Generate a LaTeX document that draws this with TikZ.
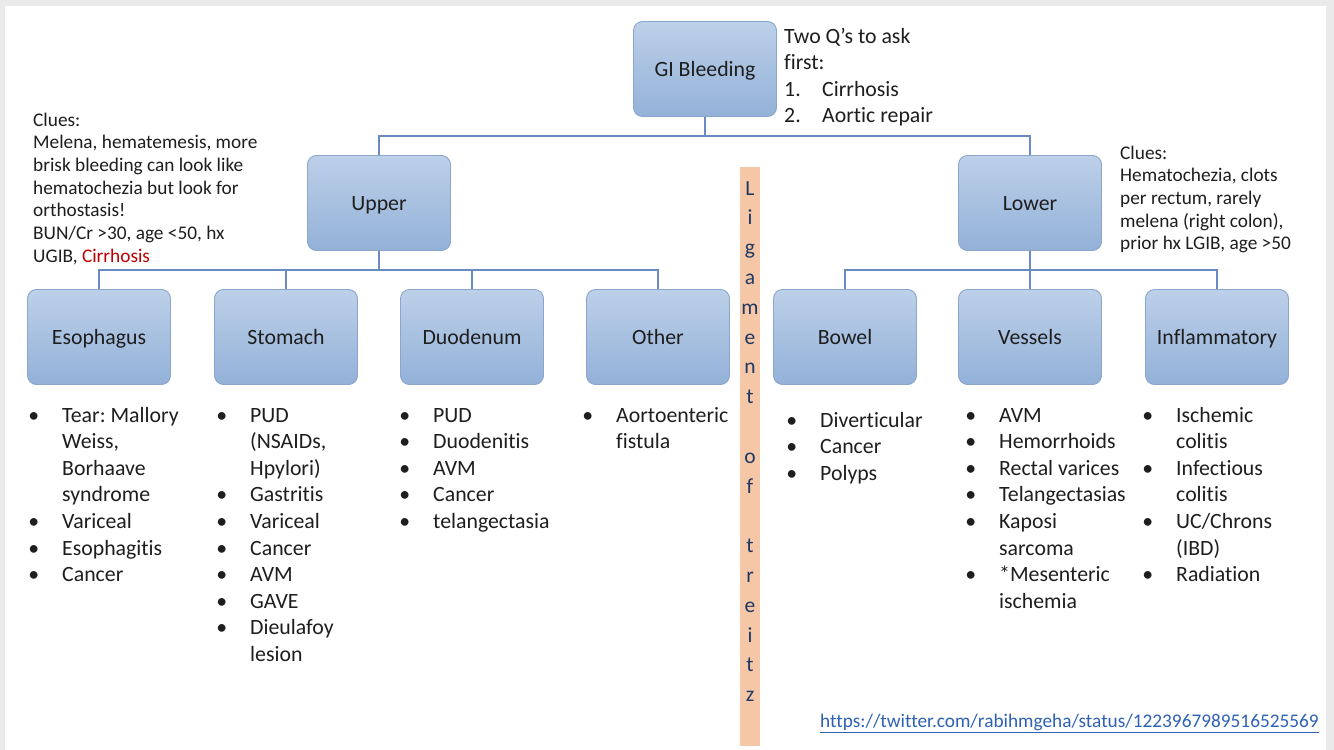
\documentclass[tikz,border=0pt]{standalone}
\usepackage{fontspec}
\setmainfont{Carlito}[Ligatures=NoCommon]
\frenchspacing
\definecolor{boxtop}{HTML}{BDD0E9}
\definecolor{boxbot}{HTML}{93B1D8}
\definecolor{boxline}{HTML}{8AA6CD}
\definecolor{linkc}{HTML}{6A8BBF}
\definecolor{ligfill}{HTML}{F5C7A6}
\definecolor{ligtext}{HTML}{1F3864}
\definecolor{cluered}{HTML}{C00000}
\definecolor{urlblue}{HTML}{2F62B5}
\definecolor{txt}{HTML}{1E1E1E}
\definecolor{framec}{HTML}{EAEAEA}
\newcommand\blt{\makebox[32.5pt][l]{\makebox[8pt][c]{\textbullet}}}
\tikzset{
  catbox/.style={draw=boxline, line width=0.9pt, rounded corners=9pt,
    top color=boxtop, bottom color=boxbot, minimum width=143pt,
    minimum height=95pt, inner sep=0pt, text=txt,
    text height=15pt, text depth=0.8pt,
    font=\fontsize{21.8}{26}\selectfont},
  link/.style={draw=linkc, line width=1.5pt},
  blist/.style={anchor=base west, inner sep=0pt, text=txt,
    font=\fontsize{21.8}{26.6}\selectfont},
  clue/.style={anchor=base west, inner sep=0pt, text=txt,
    font=\fontsize{19.3}{22.7}\selectfont},
}
\begin{document}
\begin{tikzpicture}[x=1pt,y=-1pt]
\useasboundingbox (0,0) rectangle (1334,750);
\fill[framec] (0,0) rectangle (1334,750);
\fill[white] (5,6) rectangle (1326,750);

% boxes
\node[catbox] (gi) at (705,69) {GI Bleeding};
\node[catbox] (upper) at (379,203) {Upper};
\node[catbox] (lower) at (1030,203) {Lower};
\node[catbox] (eso) at (99,337) {Esophagus};
\node[catbox] (sto) at (286,337) {Stomach};
\node[catbox] (duo) at (472,337) {Duodenum};
\node[catbox] (oth) at (658,337) {Other};
\node[catbox] (bow) at (845,337) {Bowel};
\node[catbox] (ves) at (1030,337) {Vessels};
\node[catbox] (inf) at (1217,337) {Inflammatory};

% connectors
\coordinate (j0) at (705,136);
\coordinate (j1) at (379,270);
\coordinate (j2) at (1030,270);
\draw[link] (gi.south) -- (j0) -| (upper.north);
\draw[link] (j0) -| (lower.north);
\draw[link] (upper.south) -- (j1) -| (eso.north);
\draw[link] (j1) -| (sto.north);
\draw[link] (j1) -| (duo.north);
\draw[link] (j1) -| (oth.north);
\draw[link] (lower.south) -- (j2) -| (bow.north);
\draw[link] (j2) -| (ves.north);
\draw[link] (j2) -| (inf.north);

% ligament of treitz
\node[fill=ligfill, minimum width=20pt, minimum height=579pt, inner sep=0pt] (lig) at (750,456.5) {};
\node[anchor=base, inner sep=0pt, text=ligtext, font=\fontsize{21.5}{29.8}\selectfont] (ligtxt) at (750,195)
 {\begin{tabular}[t]{@{}c@{}}L\\i\\g\\a\\m\\e\\n\\t\\ \\o\\f\\ \\t\\r\\e\\i\\t\\z\end{tabular}};

% notes
\node[blist] (q) at (784,43) {\begin{tabular}[t]{@{}l@{}}Two Q’s to ask\\first:\\\makebox[38pt][l]{1.}Cirrhosis\\\makebox[38pt][l]{2.}Aortic repair\end{tabular}};
\node[clue] (cl) at (33,126) {\begin{tabular}[t]{@{}l@{}}Clues:\\Melena, hematemesis, more\\brisk bleeding can look like\\hematochezia but look for\\orthostasis!\\BUN/Cr >30, age <50, hx\\UGIB, \textcolor{cluered}{Cirrhosis}\end{tabular}};
\node[clue] (cr) at (1120,159) {\begin{tabular}[t]{@{}l@{}}Clues:\\Hematochezia, clots\\per rectum, rarely\\melena (right colon),\\prior hx LGIB, age >50\end{tabular}};

% lists
\node[blist] (l1) at (29.5,422) {\begin{tabular}[t]{@{}l@{}l@{}}\blt&Tear: Mallory\\&Weiss,\\&Borhaave\\&syndrome\\\blt&Variceal\\\blt&Esophagitis\\\blt&Cancer\end{tabular}};
\node[blist] (l2) at (217.5,422) {\begin{tabular}[t]{@{}l@{}l@{}}\blt&PUD\\&(NSAIDs,\\&Hpylori)\\\blt&Gastritis\\\blt&Variceal\\\blt&Cancer\\\blt&AVM\\\blt&GAVE\\\blt&Dieulafoy\\&lesion\end{tabular}};
\node[blist] (l3) at (400.5,422) {\begin{tabular}[t]{@{}l@{}l@{}}\blt&PUD\\\blt&Duodenitis\\\blt&AVM\\\blt&Cancer\\\blt&telangectasia\end{tabular}};
\node[blist] (l4) at (583.5,422) {\begin{tabular}[t]{@{}l@{}l@{}}\blt&Aortoenteric\\&fistula\end{tabular}};
\node[blist] (l5) at (787.5,427) {\begin{tabular}[t]{@{}l@{}l@{}}\blt&Diverticular\\\blt&Cancer\\\blt&Polyps\end{tabular}};
\node[blist] (l6) at (966.5,422) {\begin{tabular}[t]{@{}l@{}l@{}}\blt&AVM\\\blt&Hemorrhoids\\\blt&Rectal varices\\\blt&Telangectasias\\\blt&Kaposi\\&sarcoma\\\blt&*Mesenteric\\&ischemia\end{tabular}};
\node[blist] (l7) at (1143.5,422) {\begin{tabular}[t]{@{}l@{}l@{}}\blt&Ischemic\\&colitis\\\blt&Infectious\\&colitis\\\blt&UC/Chrons\\&(IBD)\\\blt&Radiation\end{tabular}};

% url
\node[anchor=base west, inner sep=0pt, text=urlblue, font=\fontsize{19.3}{22}\selectfont] (url) at (820,727) {\underline{https://twitter.com/rabihmgeha/status/1223967989516525569}};
\end{tikzpicture}
\end{document}
